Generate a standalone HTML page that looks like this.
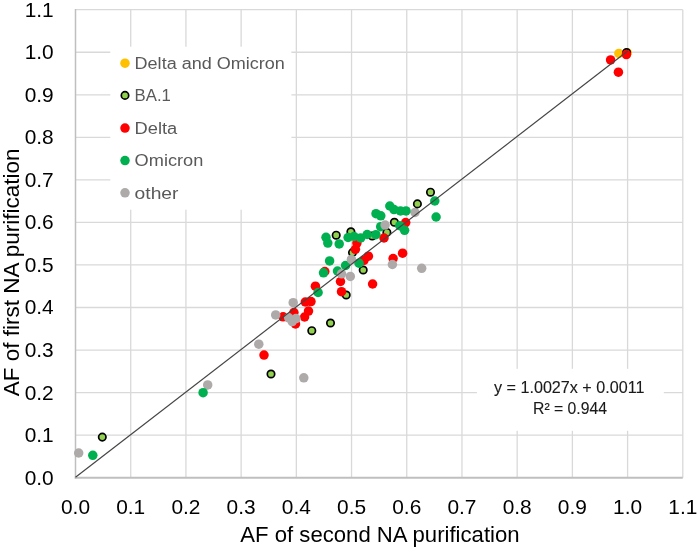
<!DOCTYPE html>
<html><head><meta charset="utf-8"><style>
html,body{margin:0;padding:0;background:#fff;}
body{width:700px;height:549px;overflow:hidden;position:relative;}
svg{position:absolute;left:0;top:0;display:block;will-change:transform;}
text{font-family:"Liberation Sans",sans-serif;}
</style></head><body>
<svg width="700" height="549" viewBox="0 0 700 549">
<rect x="0" y="0" width="700" height="549" fill="#fff"/>
<g stroke="#d9d9d9" stroke-width="1.3" fill="none">
<line x1="130.71" y1="9.70" x2="130.71" y2="477.70"/>
<line x1="185.92" y1="9.70" x2="185.92" y2="477.70"/>
<line x1="241.13" y1="9.70" x2="241.13" y2="477.70"/>
<line x1="296.34" y1="9.70" x2="296.34" y2="477.70"/>
<line x1="351.55" y1="9.70" x2="351.55" y2="477.70"/>
<line x1="406.75" y1="9.70" x2="406.75" y2="477.70"/>
<line x1="461.96" y1="9.70" x2="461.96" y2="477.70"/>
<line x1="517.17" y1="9.70" x2="517.17" y2="477.70"/>
<line x1="572.38" y1="9.70" x2="572.38" y2="477.70"/>
<line x1="627.59" y1="9.70" x2="627.59" y2="477.70"/>
<line x1="682.80" y1="9.70" x2="682.80" y2="477.70"/>
<line x1="75.50" y1="435.15" x2="682.80" y2="435.15"/>
<line x1="75.50" y1="392.61" x2="682.80" y2="392.61"/>
<line x1="75.50" y1="350.06" x2="682.80" y2="350.06"/>
<line x1="75.50" y1="307.52" x2="682.80" y2="307.52"/>
<line x1="75.50" y1="264.97" x2="682.80" y2="264.97"/>
<line x1="75.50" y1="222.43" x2="682.80" y2="222.43"/>
<line x1="75.50" y1="179.88" x2="682.80" y2="179.88"/>
<line x1="75.50" y1="137.34" x2="682.80" y2="137.34"/>
<line x1="75.50" y1="94.79" x2="682.80" y2="94.79"/>
<line x1="75.50" y1="52.25" x2="682.80" y2="52.25"/>
<line x1="75.50" y1="9.70" x2="682.80" y2="9.70"/>
</g>
<line x1="75.50" y1="9.10" x2="75.50" y2="478.70" stroke="#bfbfbf" stroke-width="1.5"/>
<line x1="74.80" y1="477.70" x2="682.80" y2="477.70" stroke="#bfbfbf" stroke-width="2"/>
<rect x="110.3" y="46.7" width="181.1" height="163" fill="#fff"/>
<rect x="476.9" y="368.8" width="186.9" height="62" fill="#fff"/>
<circle cx="207.7" cy="384.9" r="4.75" fill="#aeaaaa"/>
<circle cx="415.0" cy="212.5" r="4.75" fill="#aeaaaa"/>
<circle cx="618.9" cy="53.4" r="4.75" fill="#ffc000"/>
<circle cx="627.3" cy="52.8" r="4.75" fill="#ffc000"/>
<circle cx="626.6" cy="52.5" r="3.7" fill="#92d050" stroke="#000" stroke-width="1.7"/>
<circle cx="102.3" cy="437.1" r="3.7" fill="#92d050" stroke="#000" stroke-width="1.7"/>
<circle cx="271.0" cy="374.0" r="3.7" fill="#92d050" stroke="#000" stroke-width="1.7"/>
<circle cx="311.8" cy="330.7" r="3.7" fill="#92d050" stroke="#000" stroke-width="1.7"/>
<circle cx="330.5" cy="323.0" r="3.7" fill="#92d050" stroke="#000" stroke-width="1.7"/>
<circle cx="346.2" cy="295.0" r="3.7" fill="#92d050" stroke="#000" stroke-width="1.7"/>
<circle cx="363.2" cy="270.0" r="3.7" fill="#92d050" stroke="#000" stroke-width="1.7"/>
<circle cx="352.5" cy="252.6" r="3.7" fill="#92d050" stroke="#000" stroke-width="1.7"/>
<circle cx="336.2" cy="235.2" r="3.7" fill="#92d050" stroke="#000" stroke-width="1.7"/>
<circle cx="350.9" cy="231.8" r="3.7" fill="#92d050" stroke="#000" stroke-width="1.7"/>
<circle cx="372.2" cy="236.0" r="3.7" fill="#92d050" stroke="#000" stroke-width="1.7"/>
<circle cx="386.9" cy="232.4" r="3.7" fill="#92d050" stroke="#000" stroke-width="1.7"/>
<circle cx="394.4" cy="222.3" r="3.7" fill="#92d050" stroke="#000" stroke-width="1.7"/>
<circle cx="417.4" cy="203.9" r="3.7" fill="#92d050" stroke="#000" stroke-width="1.7"/>
<circle cx="430.5" cy="192.2" r="3.7" fill="#92d050" stroke="#000" stroke-width="1.7"/>
<circle cx="626.4" cy="54.6" r="4.75" fill="#ff0000"/>
<circle cx="610.6" cy="59.9" r="4.75" fill="#ff0000"/>
<circle cx="618.4" cy="72.2" r="4.75" fill="#ff0000"/>
<circle cx="264.0" cy="355.1" r="4.75" fill="#ff0000"/>
<circle cx="283.1" cy="316.8" r="4.75" fill="#ff0000"/>
<circle cx="293.9" cy="312.5" r="4.75" fill="#ff0000"/>
<circle cx="295.5" cy="324.0" r="4.75" fill="#ff0000"/>
<circle cx="305.3" cy="302.0" r="4.75" fill="#ff0000"/>
<circle cx="311.0" cy="301.6" r="4.75" fill="#ff0000"/>
<circle cx="308.5" cy="311.1" r="4.75" fill="#ff0000"/>
<circle cx="304.6" cy="317.0" r="4.75" fill="#ff0000"/>
<circle cx="315.4" cy="286.2" r="4.75" fill="#ff0000"/>
<circle cx="324.8" cy="271.5" r="4.75" fill="#ff0000"/>
<circle cx="340.5" cy="281.5" r="4.75" fill="#ff0000"/>
<circle cx="341.5" cy="291.7" r="4.75" fill="#ff0000"/>
<circle cx="372.6" cy="284.0" r="4.75" fill="#ff0000"/>
<circle cx="355.4" cy="249.3" r="4.75" fill="#ff0000"/>
<circle cx="356.9" cy="243.1" r="4.75" fill="#ff0000"/>
<circle cx="368.4" cy="256.2" r="4.75" fill="#ff0000"/>
<circle cx="364.0" cy="260.3" r="4.75" fill="#ff0000"/>
<circle cx="384.0" cy="238.0" r="4.75" fill="#ff0000"/>
<circle cx="405.7" cy="222.6" r="4.75" fill="#ff0000"/>
<circle cx="402.6" cy="253.2" r="4.75" fill="#ff0000"/>
<circle cx="393.1" cy="258.5" r="4.75" fill="#ff0000"/>
<circle cx="92.8" cy="455.3" r="4.75" fill="#00b050"/>
<circle cx="203.1" cy="392.7" r="4.75" fill="#00b050"/>
<circle cx="318.1" cy="292.5" r="4.75" fill="#00b050"/>
<circle cx="323.5" cy="272.8" r="4.75" fill="#00b050"/>
<circle cx="329.6" cy="260.9" r="4.75" fill="#00b050"/>
<circle cx="326.0" cy="237.3" r="4.75" fill="#00b050"/>
<circle cx="327.8" cy="243.1" r="4.75" fill="#00b050"/>
<circle cx="339.2" cy="243.9" r="4.75" fill="#00b050"/>
<circle cx="337.5" cy="271.0" r="4.75" fill="#00b050"/>
<circle cx="345.6" cy="265.5" r="4.75" fill="#00b050"/>
<circle cx="348.1" cy="237.5" r="4.75" fill="#00b050"/>
<circle cx="354.0" cy="236.5" r="4.75" fill="#00b050"/>
<circle cx="360.7" cy="237.9" r="4.75" fill="#00b050"/>
<circle cx="367.2" cy="234.5" r="4.75" fill="#00b050"/>
<circle cx="375.9" cy="234.7" r="4.75" fill="#00b050"/>
<circle cx="359.0" cy="263.2" r="4.75" fill="#00b050"/>
<circle cx="376.0" cy="213.7" r="4.75" fill="#00b050"/>
<circle cx="380.8" cy="215.8" r="4.75" fill="#00b050"/>
<circle cx="380.7" cy="226.7" r="4.75" fill="#00b050"/>
<circle cx="389.8" cy="206.0" r="4.75" fill="#00b050"/>
<circle cx="394.0" cy="209.6" r="4.75" fill="#00b050"/>
<circle cx="400.5" cy="211.0" r="4.75" fill="#00b050"/>
<circle cx="406.0" cy="210.9" r="4.75" fill="#00b050"/>
<circle cx="399.8" cy="225.7" r="4.75" fill="#00b050"/>
<circle cx="404.6" cy="230.3" r="4.75" fill="#00b050"/>
<circle cx="434.8" cy="201.0" r="4.75" fill="#00b050"/>
<circle cx="436.1" cy="217.0" r="4.75" fill="#00b050"/>
<circle cx="78.7" cy="453.0" r="4.75" fill="#aeaaaa"/>
<circle cx="258.8" cy="344.2" r="4.75" fill="#aeaaaa"/>
<circle cx="303.8" cy="377.8" r="4.75" fill="#aeaaaa"/>
<circle cx="275.7" cy="314.9" r="4.75" fill="#aeaaaa"/>
<circle cx="293.2" cy="302.7" r="4.75" fill="#aeaaaa"/>
<circle cx="288.7" cy="317.8" r="4.75" fill="#aeaaaa"/>
<circle cx="296.0" cy="318.6" r="4.75" fill="#aeaaaa"/>
<circle cx="292.2" cy="321.6" r="4.75" fill="#aeaaaa"/>
<circle cx="341.5" cy="273.8" r="4.75" fill="#aeaaaa"/>
<circle cx="350.3" cy="276.4" r="4.75" fill="#aeaaaa"/>
<circle cx="351.4" cy="259.4" r="4.75" fill="#aeaaaa"/>
<circle cx="385.1" cy="225.1" r="4.75" fill="#aeaaaa"/>
<circle cx="392.4" cy="264.5" r="4.75" fill="#aeaaaa"/>
<circle cx="421.7" cy="268.3" r="4.75" fill="#aeaaaa"/>
<line x1="75.50" y1="477.25" x2="627.70" y2="51.05" stroke="#454545" stroke-width="1.2"/>
<g font-size="20.0" fill="#000">
<text transform="translate(53.7,484.60) scale(1.045,1)" text-anchor="end">0.0</text>
<text transform="translate(53.7,442.05) scale(1.045,1)" text-anchor="end">0.1</text>
<text transform="translate(53.7,399.51) scale(1.045,1)" text-anchor="end">0.2</text>
<text transform="translate(53.7,356.96) scale(1.045,1)" text-anchor="end">0.3</text>
<text transform="translate(53.7,314.42) scale(1.045,1)" text-anchor="end">0.4</text>
<text transform="translate(53.7,271.87) scale(1.045,1)" text-anchor="end">0.5</text>
<text transform="translate(53.7,229.33) scale(1.045,1)" text-anchor="end">0.6</text>
<text transform="translate(53.7,186.78) scale(1.045,1)" text-anchor="end">0.7</text>
<text transform="translate(53.7,144.24) scale(1.045,1)" text-anchor="end">0.8</text>
<text transform="translate(53.7,101.69) scale(1.045,1)" text-anchor="end">0.9</text>
<text transform="translate(53.7,59.15) scale(1.045,1)" text-anchor="end">1.0</text>
<text transform="translate(53.7,16.60) scale(1.045,1)" text-anchor="end">1.1</text>
<text transform="translate(75.50,513.8) scale(1.045,1)" text-anchor="middle">0.0</text>
<text transform="translate(130.71,513.8) scale(1.045,1)" text-anchor="middle">0.1</text>
<text transform="translate(185.92,513.8) scale(1.045,1)" text-anchor="middle">0.2</text>
<text transform="translate(241.13,513.8) scale(1.045,1)" text-anchor="middle">0.3</text>
<text transform="translate(296.34,513.8) scale(1.045,1)" text-anchor="middle">0.4</text>
<text transform="translate(351.55,513.8) scale(1.045,1)" text-anchor="middle">0.5</text>
<text transform="translate(406.75,513.8) scale(1.045,1)" text-anchor="middle">0.6</text>
<text transform="translate(461.96,513.8) scale(1.045,1)" text-anchor="middle">0.7</text>
<text transform="translate(517.17,513.8) scale(1.045,1)" text-anchor="middle">0.8</text>
<text transform="translate(572.38,513.8) scale(1.045,1)" text-anchor="middle">0.9</text>
<text transform="translate(627.59,513.8) scale(1.045,1)" text-anchor="middle">1.0</text>
<text transform="translate(682.80,513.8) scale(1.045,1)" text-anchor="middle">1.1</text>
</g>
<text x="240.3" y="541.7" font-size="22" fill="#000" textLength="279.3" lengthAdjust="spacingAndGlyphs">AF of second NA purification</text>
<text transform="translate(18.8,396.2) rotate(-90)" x="0" y="0" font-size="22" fill="#000" textLength="247.7" lengthAdjust="spacingAndGlyphs">AF of first NA purification</text>
<circle cx="125" cy="63.2" r="4.75" fill="#ffc000"/>
<text x="134.6" y="68.9" font-size="17.3" fill="#595959" textLength="150.2" lengthAdjust="spacingAndGlyphs">Delta and Omicron</text>
<circle cx="125" cy="95.4" r="3.7" fill="#92d050" stroke="#000" stroke-width="1.7"/>
<text x="134.6" y="101.1" font-size="17.3" fill="#595959" textLength="36.3" lengthAdjust="spacingAndGlyphs">BA.1</text>
<circle cx="125" cy="128.1" r="4.75" fill="#ff0000"/>
<text x="134.6" y="133.8" font-size="17.3" fill="#595959" textLength="42.7" lengthAdjust="spacingAndGlyphs">Delta</text>
<circle cx="125" cy="160.6" r="4.75" fill="#00b050"/>
<text x="134.6" y="166.3" font-size="17.3" fill="#595959" textLength="68.7" lengthAdjust="spacingAndGlyphs">Omicron</text>
<circle cx="125" cy="192.8" r="4.75" fill="#aeaaaa"/>
<text x="134.6" y="198.5" font-size="17.3" fill="#595959" textLength="43.9" lengthAdjust="spacingAndGlyphs">other</text>
<text x="494.0" y="392.8" font-size="16.6" fill="#1a1a1a" stroke="#1a1a1a" stroke-width="0.12" textLength="150.4" lengthAdjust="spacingAndGlyphs">y = 1.0027x + 0.0011</text>
<text x="533.0" y="414.4" font-size="16.6" fill="#1a1a1a" stroke="#1a1a1a" stroke-width="0.12" textLength="74.0" lengthAdjust="spacingAndGlyphs">R² = 0.944</text>
</svg>
</body></html>
